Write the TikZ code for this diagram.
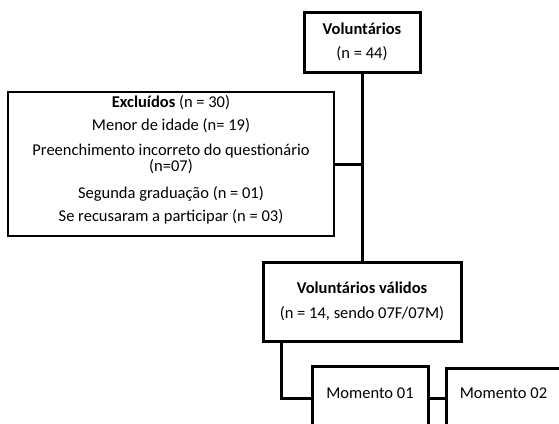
\documentclass[tikz,border=0pt]{standalone}
\usepackage{fontspec}
\setmainfont{Carlito}
\begin{document}
\begin{tikzpicture}[x=1pt,y=-1pt,
  box/.style={draw=black, line width=3pt, inner sep=0pt},
  thinbox/.style={draw=black, line width=1.8pt, inner sep=0pt},
  link/.style={draw=black, line width=3pt},
  txt/.style={font=\fontsize{16.5}{24}\selectfont, align=center, inner sep=0pt}]
\useasboundingbox (0,0) rectangle (559,423);
\clip (0,0) rectangle (559,423);
% top box
\node[box, txt, minimum width=116pt, minimum height=60pt] (vol) at (362,42)
  {\textbf{Voluntários}\\(n = 44)};
% excluded box
\node[thinbox, minimum width=326pt, minimum height=144pt] (excl) at (171,164) {};
\node[txt, font=\fontsize{16.5}{16}\selectfont] (excltxt) at (171,159.5)
  {\textbf{Excluídos} (n = 30)\\[7pt]
   Menor de idade (n= 19)\\[9pt]
   Preenchimento incorreto do questionário\\
   (n=07)\\[11pt]
   Segunda graduação (n = 01)\\[7pt]
   Se recusaram a participar (n = 03)};
% valid box
\node[box, txt, font=\fontsize{16.5}{25}\selectfont, minimum width=198pt, minimum height=79pt] (valid) at (362,301.5)
  {\textbf{Voluntários válidos}\\(n = 14, sendo 07F/07M)};
% moments
\node[box, minimum width=116pt, minimum height=64pt] (m1) at (370,398) {};
\node[txt] (m1txt) at (370,393) {Momento 01};
\node[box, minimum width=130pt, minimum height=60pt] (m2) at (511,398) {};
\node[txt] (m2txt) at (503.5,393) {Momento 02};
% connectors
\draw[link] (vol.south) -- (valid.north);
\draw[link] (excl.east) -- (excl.east -| vol.south);
\draw[link] ([xshift=20pt]valid.south west) |- (m1.west);
\draw[link] (m1.east) -- (m2.west);
\end{tikzpicture}
\end{document}
